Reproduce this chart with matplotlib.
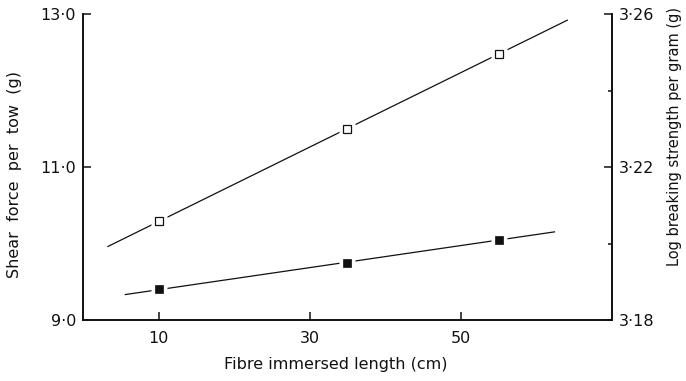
import numpy as np
import matplotlib
matplotlib.use("Agg")
import matplotlib.pyplot as plt
from matplotlib.ticker import FixedLocator

# Fibre immersed length (cm)
length = [10, 35, 55]
# Shear force per tow (g) - open squares, left axis
shear_force = [10.29, 11.50, 12.48]
# Log breaking strength per gram (g) - filled squares, right axis
log_strength = [3.188, 3.195, 3.201]

# x-extent of the fitted regression lines
shear_fit_span = [3.3, 64.1]
strength_fit_span = [5.6, 62.4]

x_ticks = [10, 30, 50]
x_tick_labels = ["10", "30", "50"]
left_ticks = [9.0, 11.0, 13.0]
left_tick_labels = ["9·0", "11·0", "13·0"]
right_ticks = [3.18, 3.22, 3.26]
right_tick_labels = ["3·18", "3·22", "3·26"]
right_minor = [3.20, 3.24]

plt.rcParams["font.family"] = ["DejaVu Sans"]
ink = "#111111"

fig = plt.figure(figsize=(6.86, 3.81), dpi=100)
ax = fig.add_axes([0.121, 0.160, 0.771, 0.803])
ax2 = ax.twinx()

ax.set_xlim(0, 70)
ax.set_ylim(9.0, 13.0)
ax2.set_ylim(3.18, 3.26)

for a in (ax, ax2):
    a.spines["top"].set_visible(False)
    for s in ("left", "right", "bottom"):
        a.spines[s].set_linewidth(1.2)
        a.spines[s].set_color(ink)
    a.patch.set_visible(False)


def fitted(xs, ys, span):
    k, b = np.polyfit(xs, ys, 1)
    sx = np.array(span)
    return sx, k * sx + b


# regression lines with small breaks around each point
fx, fy = fitted(length, shear_force, shear_fit_span)
ax.plot(fx, fy, color=ink, lw=0.9, zorder=1)
ax.plot(length, shear_force, ls="none", marker="s", ms=12, mfc="white",
        mec="none", zorder=2)
ax.plot(length, shear_force, ls="none", marker="s", ms=5.2, mfc="white",
        mec=ink, mew=0.9, zorder=3)

gx, gy = fitted(length, log_strength, strength_fit_span)
ax2.plot(gx, gy, color=ink, lw=0.9, zorder=1)
ax2.plot(length, log_strength, ls="none", marker="s", ms=12, mfc="white",
         mec="none", zorder=2)
ax2.plot(length, log_strength, ls="none", marker="s", ms=5.5, mfc=ink,
         mec=ink, mew=0.5, zorder=3)

tick_font = dict(fontsize=11.5)

ax.set_xticks(x_ticks)
ax.set_xticklabels(x_tick_labels, **tick_font)
ax.set_yticks(left_ticks)
ax.set_yticklabels(left_tick_labels, **tick_font)
ax.tick_params(axis="x", direction="in", length=6, width=1.1, color=ink, pad=8,
               labelcolor=ink)
ax.tick_params(axis="y", direction="in", length=6, width=1.1, color=ink, pad=5,
               labelcolor=ink)

ax2.set_yticks(right_ticks)
ax2.set_yticklabels(right_tick_labels, **tick_font)
ax2.yaxis.set_minor_locator(FixedLocator(right_minor))
ax2.tick_params(axis="y", which="major", direction="in", length=6, width=1.1,
                color=ink, pad=5, labelcolor=ink)
ax2.tick_params(axis="y", which="minor", direction="in", length=3, width=1.1,
                color=ink)

label_font = dict(color=ink)
fig.text(336 / 686, 1 - 365 / 381, "Fibre immersed length (cm)",
         ha="center", va="center", fontsize=11.5, **label_font)
fig.text(15 / 686, 1 - 175 / 381, "Shear  force  per  tow  (g)", rotation=90,
         ha="center", va="center", fontsize=11.5, **label_font)
fig.text(674 / 686, 1 - 136 / 381, "Log breaking strength per gram (g)",
         rotation=90, ha="center", va="center", fontsize=10.5, **label_font)

fig.savefig("out.png", dpi=100, facecolor="white")
